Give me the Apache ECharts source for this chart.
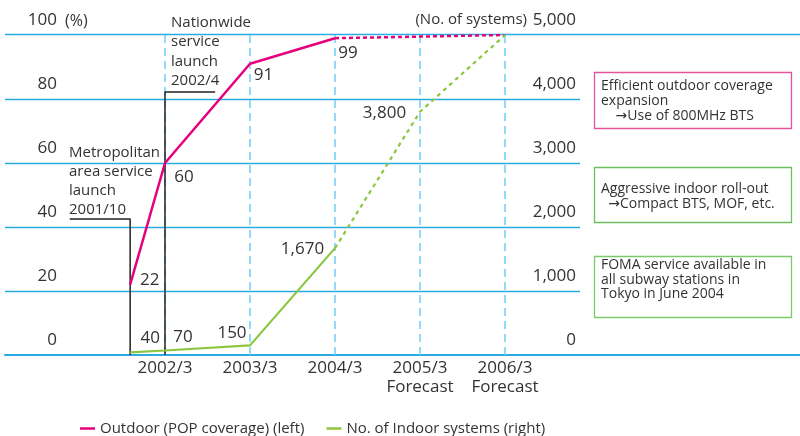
<!DOCTYPE html>
<html>
<head>
<meta charset="utf-8">
<script src="https://cdn.jsdelivr.net/npm/echarts@6/dist/echarts.min.js"></script>
<style>
  html, body { margin: 0; padding: 0; background: #fff; }
  #chart { width: 800px; height: 436px; }
</style>
</head>
<body>
<div id="chart"></div>
<script>
// Survey points (2001/10 and 2002/4 are the two service launches)
const periods = ['2001/10', '2002/4', '2003/3', '2004/3', '2005/3', '2006/3'];
// Position of each period on the fiscal-year axis (2002/3 = 0)
const periodPos = [-0.41, 0, 1, 2, 3, 4];
// Outdoor POP coverage, %
const outdoorPct = [22, 60, 91, 99, 99.5, 100];
// Number of indoor systems
const indoorSystems = [40, 70, 150, 1670, 3800, 5000];
// Index of the last actual value; later values are forecasts
const lastActual = 3;

// Bottom axis
const tickPos = [0, 1, 2, 3, 4];
const tickLabels = ['2002/3', '2003/3', '2004/3', '2005/3\nForecast', '2006/3\nForecast'];
// Left-axis gridlines
const leftTicks = [20, 40, 60, 80];

const FONT = '"Open Sans", "DejaVu Sans", sans-serif';
const TXT = '#333333';
const PINK = '#e6007e';
const GREEN = '#8cc63f';
const GRID_BLUE = '#29abe2';

// Where each value label sits relative to its point (px)
const outdoorLabelOffset = [[19.5, -4], [19, 14.5], [13.5, 11], [13, 14.5]];
const indoorLabelOffset = [[20, -14], [18, -13.5], [-18, -12], [-32.5, 1], [-35.5, 1]];

function fmt(v) { return v.toLocaleString('en-US'); }

function pts(values, from, to, offsets, labelIdx) {
  const out = [];
  for (let i = from; i <= to; i++) {
    const item = { value: [periodPos[i], values[i]] };
    const showLabel = labelIdx.indexOf(i) >= 0;
    item.label = showLabel ? {
      show: true, position: 'inside', offset: offsets[i],
      formatter: fmt(values[i]), color: TXT, fontSize: 17, fontFamily: FONT
    } : { show: false };
    out.push(item);
  }
  return out;
}

const chart = echarts.init(document.getElementById('chart'), null, { renderer: 'canvas' });

const xMin = (5 - 165) / 85;
const xMax = (580 - 165) / 85;

const option = {
  animation: false,
  grid: { left: 5, right: 220, top: 35, bottom: 81 },
  legend: {
    data: ['Outdoor (POP coverage) (left)', 'No. of Indoor systems (right)'],
    left: 75, top: 416,
    icon: 'rect', itemWidth: 15, itemHeight: 2.5, itemGap: 22,
    selectedMode: false,
    textStyle: { color: TXT, fontSize: 15, fontFamily: FONT }
  },
  xAxis: {
    type: 'value', min: xMin, max: xMax,
    axisLine: { show: true, lineStyle: { color: GRID_BLUE, width: 2 } },
    axisTick: { show: false },
    splitLine: { show: false },
    axisLabel: {
      customValues: tickPos,
      formatter: function (v) {
        const i = tickPos.indexOf(Math.round(v));
        return i >= 0 ? tickLabels[i] : '';
      },
      color: TXT, fontSize: 17, fontFamily: FONT, lineHeight: 19, margin: 4
    }
  },
  yAxis: [
    {
      type: 'value', min: 0, max: 100, interval: 20, position: 'left',
      axisLine: { show: false }, axisTick: { show: false },
      splitLine: { show: false },
      axisLabel: {
        inside: true, margin: 52, align: 'right', verticalAlign: 'bottom',
        lineHeight: 17, padding: [0, 0, 6, 0],
        color: TXT, fontSize: 17, fontFamily: FONT
      }
    },
    {
      type: 'value', min: 0, max: 5000, interval: 1000, position: 'right',
      axisLine: { show: false }, axisTick: { show: false },
      splitLine: { show: false },
      axisLabel: {
        inside: true, margin: 4, align: 'right', verticalAlign: 'bottom',
        lineHeight: 17, padding: [0, 0, 6, 0],
        color: TXT, fontSize: 17, fontFamily: FONT,
        formatter: function (v) { return fmt(v); }
      }
    }
  ],
  series: [
    {
      // Horizontal gridlines on the left scale
      name: 'hgrid', type: 'line', data: [], silent: true, z: 1,
      markLine: {
        silent: true, symbol: 'none', label: { show: false }, z: 1,
        lineStyle: { color: GRID_BLUE, type: 'solid', width: 1.4, opacity: 1 },
        emphasis: { disabled: true },
        data: leftTicks.map(function (v) { return { yAxis: v }; })
      }
    },
    {
      // Dashed period guides
      name: 'guides', type: 'line', data: [], silent: true, z: 1,
      markLine: {
        silent: true, symbol: 'none', label: { show: false }, z: 1,
        lineStyle: { color: '#6dcff6', type: [8, 5], width: 1.5 },
        emphasis: { disabled: true },
        data: tickPos.map(function (p) { return { xAxis: p }; })
      }
    },
    {
      // Launch leader lines
      name: 'metro-launch', type: 'line', symbol: 'none', silent: true,
      lineStyle: { color: '#222', width: 1.5 },
      data: [[-1.12, 42.5], [periodPos[0], 42.5], [periodPos[0], 0]], z: 4
    },
    {
      name: 'nation-launch', type: 'line', symbol: 'none', silent: true,
      lineStyle: { color: '#222', width: 1.5 },
      data: [[0.59, 82.2], [periodPos[1], 82.2], [periodPos[1], 0]], z: 4
    },
    {
      name: 'Outdoor (POP coverage) (left)', type: 'line', yAxisIndex: 0,
      symbol: 'circle', symbolSize: 1, itemStyle: { color: PINK },
      lineStyle: { color: PINK, width: 2.5 }, z: 5,
      data: pts(outdoorPct, 0, lastActual, outdoorLabelOffset, [0, 1, 2, 3])
    },
    {
      name: 'Outdoor forecast', type: 'line', yAxisIndex: 0,
      symbol: 'none', itemStyle: { color: PINK },
      lineStyle: { color: PINK, width: 2.5, type: [4, 3] }, z: 5,
      data: pts(outdoorPct, lastActual, periods.length - 1, outdoorLabelOffset, [])
    },
    {
      name: 'No. of Indoor systems (right)', type: 'line', yAxisIndex: 1,
      symbol: 'circle', symbolSize: 1, itemStyle: { color: GREEN },
      lineStyle: { color: GREEN, width: 2.2 }, z: 5,
      data: pts(indoorSystems, 0, lastActual, indoorLabelOffset, [0, 1, 2, 3])
    },
    {
      name: 'Indoor forecast', type: 'line', yAxisIndex: 1,
      symbol: 'circle', symbolSize: 1, itemStyle: { color: GREEN },
      lineStyle: { color: GREEN, width: 2.2, type: [4, 4] }, z: 5,
      data: pts(indoorSystems, lastActual, periods.length - 1, indoorLabelOffset, [4])
    }
  ],
  graphic: [
    // top and bottom rules run on past the plot area
    { type: 'line', shape: { x1: 5, y1: 34.5, x2: 800, y2: 34.5 }, style: { stroke: GRID_BLUE, lineWidth: 1.6 }, z: 1, silent: true },
    { type: 'line', shape: { x1: 580, y1: 355, x2: 800, y2: 355 }, style: { stroke: GRID_BLUE, lineWidth: 2 }, z: 1, silent: true },
    // axis units
    { type: 'text', x: 65, y: 21, silent: true,
      style: { text: '(%)', fill: TXT, font: '16px ' + FONT, verticalAlign: 'middle', align: 'left' } },
    { type: 'text', x: 527, y: 20, silent: true,
      style: { text: '(No. of systems)', fill: TXT, font: '15px ' + FONT, verticalAlign: 'middle', align: 'right' } },
    // launch notes
    { type: 'text', left: 69, top: 143, silent: true,
      style: { text: 'Metropolitan\narea service\nlaunch\n2001/10', fill: TXT, font: '15px ' + FONT, lineHeight: 19 } },
    { type: 'text', left: 171, top: 13, silent: true,
      style: { text: 'Nationwide\nservice\nlaunch\n2002/4', fill: TXT, font: '15px ' + FONT, lineHeight: 19.3 } },
    // side notes
    { type: 'rect', shape: { x: 594.5, y: 72.5, width: 197, height: 56 }, silent: true,
      style: { fill: '#fff', stroke: '#e4539b', lineWidth: 1.3 } },
    { type: 'text', left: 601, top: 79, silent: true,
      style: { text: 'Efficient outdoor coverage\nexpansion\n    \u2192Use of 800MHz BTS', fill: TXT, font: '14px ' + FONT, lineHeight: 15 } },
    { type: 'rect', shape: { x: 594.5, y: 167.5, width: 197, height: 55 }, silent: true,
      style: { fill: '#fff', stroke: '#6dbf5b', lineWidth: 1.3 } },
    { type: 'text', left: 601, top: 182, silent: true,
      style: { text: 'Aggressive indoor roll-out\n  \u2192Compact BTS, MOF, etc.', fill: TXT, font: '14px ' + FONT, lineHeight: 15 } },
    { type: 'rect', shape: { x: 594.5, y: 256.5, width: 197, height: 61 }, silent: true,
      style: { fill: '#fff', stroke: '#7cc96a', lineWidth: 1.3 } },
    { type: 'text', left: 601, top: 258, silent: true,
      style: { text: 'FOMA service available in\nall subway stations in\nTokyo in June 2004', fill: TXT, font: '14px ' + FONT, lineHeight: 14.5 } }
  ]
};

chart.setOption(option);
</script>
</body>
</html>
